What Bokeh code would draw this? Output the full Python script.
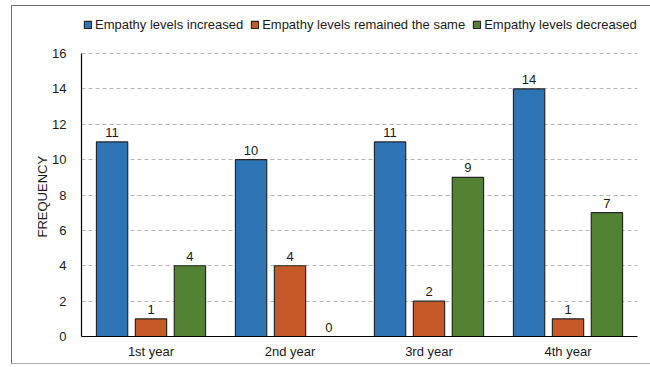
from bokeh.plotting import figure
from bokeh.models import (ColumnDataSource, FactorRange, Range1d, Legend, LegendItem,
                          LabelSet, FixedTicker, InlineStyleSheet, Title)
from bokeh.core.properties import value
from bokeh.transform import dodge
from bokeh.embed import file_html
from bokeh.resources import INLINE

years = ["1st year", "2nd year", "3rd year", "4th year"]
increased = [11, 10, 11, 14]
same = [1, 4, 2, 1]
decreased = [4, 0, 9, 7]

series_names = ["Empathy levels increased", "Empathy levels remained the same",
                "Empathy levels decreased"]
colors = ["#2E75B6", "#C55A28", "#548235"]
y_ticks = [0, 2, 4, 6, 8, 10, 12, 14, 16]
y_label = "FREQUENCY"

FONT = "Liberation Sans"

src = ColumnDataSource(data=dict(years=years, increased=increased, same=same,
                                 decreased=decreased))

# thin frame around the whole chart (open on the right edge)
frame_css = InlineStyleSheet(css="""
:host { position: relative; }
:host::after {
  content: ''; position: absolute; left: 11px; top: 5px;
  width: 639px; height: 359px; box-sizing: border-box;
  border-left: 1px solid #6e6e6e; border-top: 1px solid #6e6e6e;
  border-bottom: 1px solid #b0b0b0; pointer-events: none;
}
""")

W, H = 650, 367
BOTTOM, LEFT, RIGHT = 31, 81, 13
FRAME_H = H - BOTTOM
AXIS_TOP_PX = 53          # pixel row of the top gridline
# the frame reaches the top of the canvas so the legend can sit inside it
y_end = y_ticks[-1] * FRAME_H / (FRAME_H - AXIS_TOP_PX)

p = figure(width=W, height=H, x_range=FactorRange(*years, range_padding=0),
           y_range=Range1d(0, y_end), output_backend="svg", toolbar_location=None,
           min_border_left=LEFT, min_border_right=RIGHT, min_border_top=0,
           min_border_bottom=BOTTOM, stylesheets=[frame_css])
p.outline_line_color = None
p.background_fill_color = "white"
p.border_fill_color = "white"

offsets = [-0.28, 0.0, 0.28]
fields = ["increased", "same", "decreased"]
renderers = []
for field, off, col in zip(fields, offsets, colors):
    r = p.vbar(x=dodge("years", off, range=p.x_range), top=field, width=0.225,
               source=src, fill_color=col, line_color="#262626", line_width=1.2)
    renderers.append(r)
    labels = LabelSet(x=dodge("years", off, range=p.x_range), y=field, text=field,
                      source=src, text_align="center", text_baseline="bottom",
                      y_offset=5, text_font=value(FONT), text_font_size="13px",
                      text_color="#1a1a1a")
    p.add_layout(labels)

legend = Legend(items=[LegendItem(label=n, renderers=[r])
                       for n, r in zip(series_names, renderers)],
                orientation="horizontal", location=(2, FRAME_H - 32),
                glyph_width=9, glyph_height=9, label_standoff=3, spacing=7,
                padding=0, margin=0, border_line_color=None,
                background_fill_alpha=0, label_text_font=FONT,
                label_text_font_size="13px", label_text_color="#1a1a1a",
                label_height=13)
p.add_layout(legend, "center")

# y axis
p.yaxis.ticker = FixedTicker(ticks=y_ticks)
p.yaxis.bounds = (y_ticks[0], y_ticks[-1])
p.yaxis.axis_line_color = "black"
p.yaxis.axis_line_width = 1.2
p.yaxis.major_tick_line_color = None
p.yaxis.minor_tick_line_color = None
p.yaxis.major_label_standoff = 9
p.yaxis.major_label_text_font = FONT
p.yaxis.major_label_text_font_size = "13px"
p.yaxis.major_label_text_color = "#1a1a1a"

# y axis title, lifted from the bottom so it sits beside the 0-16 span
ytitle = Title(text=y_label, align="left", offset=99,
               text_font=FONT, text_font_size="13px", text_font_style="normal",
               text_color="#1a1a1a", standoff=0)
p.add_layout(ytitle, "left")

# x axis
p.xaxis.axis_line_color = "black"
p.xaxis.axis_line_width = 1.2
p.xaxis.major_tick_line_color = None
p.xaxis.minor_tick_line_color = None
p.xaxis.major_label_standoff = 1
p.xaxis.major_label_text_font = FONT
p.xaxis.major_label_text_font_size = "13px"
p.xaxis.major_label_text_color = "#1a1a1a"

p.xgrid.grid_line_color = None
p.ygrid.grid_line_color = "#b4b4b4"
p.ygrid.grid_line_dash = "4 3"
p.ygrid.grid_line_width = 1

open("out.html", "w").write(file_html(p, INLINE))
